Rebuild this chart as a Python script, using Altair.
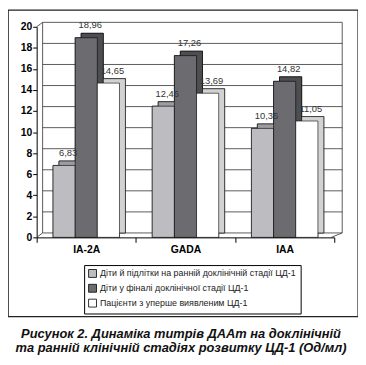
import altair as alt
import pandas as pd

categories = ["IA-2A", "GADA", "IAA"]
series = [
    "Діти й підлітки на ранній доклінічній стадії ЦД-1",
    "Діти у фіналі доклінічної стадії ЦД-1",
    "Пацієнти з уперше виявленим ЦД-1",
]
values_s1 = [6.83, 12.46, 10.35]
values_s2 = [18.96, 17.26, 14.82]
values_s3 = [14.65, 13.69, 11.05]
y_ticks = [0, 2, 4, 6, 8, 10, 12, 14, 16, 18, 20]
caption = [
    "Рисунок 2. Динаміка титрів ДААт на доклінічній",
    "та ранній клінічній стадіях розвитку ЦД-1 (Од/мл)",
]

front_colors = ["#bdbdc1", "#6c6c70", "#ffffff"]
side_colors = ["#9d9da1", "#4e4e52", "#d2d2d2"]

rows = []
for si, (s, vals) in enumerate(zip(series, [values_s1, values_s2, values_s3])):
    for ci, (c, v) in enumerate(zip(categories, vals)):
        rows.append({"cat": c, "ci": ci, "series": s, "si": si, "v": v})
df = pd.DataFrame(rows)
grid_df = pd.DataFrame({"v": y_ticks})
one = pd.DataFrame({"a": [0]})

GROUP_START = 0.165
BAR_W = 0.2233
DX = 0.06    # depth offset, x units (about 6 px)
DX_R = 0.08  # right wall offset
DY = 0.42    # depth offset, y units (about 4.5 px)
Y_TOP = 20
X_END = 3

xscale = alt.Scale(domain=[0, X_END], range=[29, 330], nice=False, zero=False)
yscale = alt.Scale(domain=[0, Y_TOP], range=[230, 17], nice=False)

label_axis = alt.Axis(orient="bottom", offset=-80, title=None, values=[0.5, 1.5, 2.5],
                      labelExpr="['IA-2A','GADA','IAA'][floor(datum.value)]",
                      ticks=False, domainColor="black", grid=False,
                      labelFontSize=10.5, labelFontWeight="bold", labelColor="black",
                      labelPadding=7, labelFont="Liberation Sans", labelAngle=0)
tick_axis = alt.Axis(orient="bottom", offset=-80, title=None, values=[0, 1, 2, 3],
                     labels=False, domain=False, grid=False, tickSize=5, tickColor="black")
yaxis = alt.Axis(orient="left", offset=-29, title=None, values=y_ticks,
                 tickSize=4, tickColor="black", domainColor="black", grid=False,
                 labelFontSize=10.5, labelFontWeight="bold", labelColor="black",
                 labelPadding=1, labelFont="Liberation Sans")

def yq(field=None, datum=None, axis=None):
    if field is not None:
        return alt.Y(field, scale=yscale, axis=axis)
    return alt.Y(datum=datum, scale=yscale, axis=axis)

def xd(datum):
    return alt.X(datum=datum, scale=xscale, axis=None)

line_style = dict(color="#333", strokeWidth=0.8)

# invisible layer that carries the y axis (placed first)
axis_owner = alt.Chart(grid_df).mark_point(opacity=0).encode(
    x=xd(0), y=yq("v:Q", axis=yaxis))

grid = alt.Chart(grid_df).transform_calculate(
    gy=f"datum.v + {DY}"
).mark_rule(**line_style).encode(
    y=yq("gy:Q"), x=xd(DX), x2=alt.datum(X_END + DX_R))

wall_l = alt.Chart(one).mark_rule(**line_style).encode(
    x=xd(DX), y=yq(datum=DY), y2=alt.datum(Y_TOP + DY))
wall_r = alt.Chart(one).mark_rule(**line_style).encode(
    x=xd(X_END + DX_R), y=yq(datum=DY), y2=alt.datum(Y_TOP + DY))
diag_bl = alt.Chart(one).mark_rule(**line_style).encode(
    x=xd(0), x2=alt.datum(DX), y=yq(datum=0), y2=alt.datum(DY))
diag_tl = alt.Chart(one).mark_rule(**line_style).encode(
    x=xd(0), x2=alt.datum(DX), y=yq(datum=Y_TOP), y2=alt.datum(Y_TOP + DY))
diag_br = alt.Chart(one).mark_rule(**line_style).encode(
    x=xd(X_END - 0.03), x2=alt.datum(X_END + DX_R), y=yq(datum=0), y2=alt.datum(DY))

base = alt.Chart(df).transform_calculate(
    x0=f"datum.ci + {GROUP_START} + datum.si * {BAR_W}",
    x1=f"datum.ci + {GROUP_START} + (datum.si + 1) * {BAR_W}",
    xm=f"datum.ci + {GROUP_START} + (datum.si + 0.5) * {BAR_W}",
    lab="replace(format(datum.v, '.2f'), '.', ',')",
)

back_mark = dict(xOffset=6, x2Offset=6, yOffset=-4.5, y2Offset=-4.5, stroke="black",
                 strokeWidth=0.6)

back = base.mark_bar(**back_mark).encode(
    x=alt.X("x0:Q", scale=xscale, axis=tick_axis), x2="x1:Q",
    y=yq("v:Q"), y2=alt.datum(0),
    color=alt.Color("series:N", sort=series,
                    scale=alt.Scale(domain=series, range=side_colors), legend=None))

front = base.mark_bar(stroke="black", strokeWidth=0.6).encode(
    x=alt.X("x0:Q", scale=xscale, axis=label_axis), x2="x1:Q",
    y=yq("v:Q"), y2=alt.datum(0),
    color=alt.Color("series:N", sort=series,
                    scale=alt.Scale(domain=series, range=front_colors),
                    legend=alt.Legend(title=None, orient="none", legendX=77, legendY=258,
                                      direction="vertical", strokeColor="black",
                                      padding=4, symbolType="square", symbolSize=64,
                                      symbolStrokeColor="black", symbolStrokeWidth=0.8,
                                      labelFontSize=9, labelColor="#222",
                                      labelFont="Liberation Sans", rowPadding=2,
                                      labelOffset=3, labelLimit=300, fillColor="white")))

# bars drawn again above the back wall lines
back2 = base.mark_bar(**back_mark).encode(
    x=alt.X("x0:Q", scale=xscale, axis=None), x2="x1:Q",
    y=yq("v:Q"), y2=alt.datum(0),
    color=alt.Color("series:N", sort=series,
                    scale=alt.Scale(domain=series, range=side_colors), legend=None))
front2 = base.mark_bar(stroke="black", strokeWidth=0.6).encode(
    x=alt.X("x0:Q", scale=xscale, axis=None), x2="x1:Q",
    y=yq("v:Q"), y2=alt.datum(0),
    color=alt.Color("series:N", sort=series,
                    scale=alt.Scale(domain=series, range=front_colors), legend=None))

labels = base.mark_text(fontSize=9.5, color="#333", dx=4, dy=-7.5, baseline="bottom",
                        font="Liberation Sans").encode(
    x=alt.X("xm:Q", scale=xscale, axis=None),
    y=yq("v:Q"), text="lab:N")

cap_style = dict(fontSize=13, fontWeight="bold", fontStyle="italic",
                 font="Liberation Sans", color="#111", baseline="middle")
cap1 = alt.Chart(one).mark_text(**cap_style).encode(
    text=alt.value(caption[0]), x=alt.value(175), y=alt.value(328))
cap2 = alt.Chart(one).mark_text(**cap_style).encode(
    text=alt.value(caption[1]), x=alt.value(175), y=alt.value(342))

chart = alt.layer(axis_owner, back, front, grid, wall_l, wall_r, diag_bl, diag_tl, diag_br,
                  back2, front2, labels, cap1, cap2).resolve_scale(
    color="independent").resolve_axis(x="independent", y="independent").properties(
    width=354, height=310, padding=0, background="white"
).configure_view(stroke="#222", strokeWidth=1.4)

chart.save("out.html", embed_options={"renderer": "svg", "actions": False})
